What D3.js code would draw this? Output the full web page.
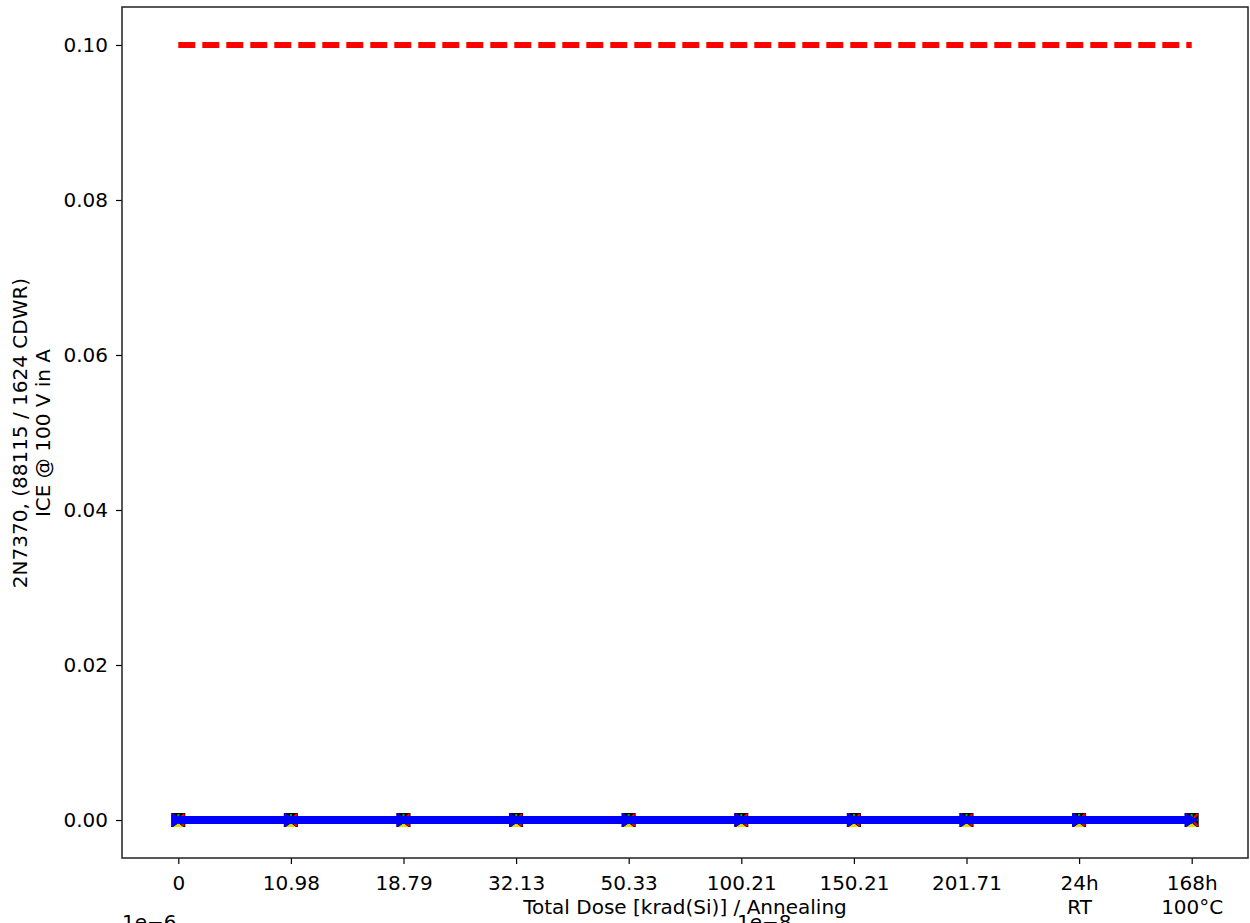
<!DOCTYPE html>
<html><head><meta charset="utf-8">
<script src="https://cdn.jsdelivr.net/npm/d3@7"></script>
<style>body{margin:0;background:#fff}svg{display:block;font-family:"DejaVu Sans",sans-serif}</style>
</head><body><svg id="c" width="1250" height="923"></svg>
<script>
const categories = ["0","10.98","18.79","32.13","50.33","100.21","150.21","201.71","24h\nRT","168h\n100°C"];
const limitValues = [0.1,0.1,0.1,0.1,0.1,0.1,0.1,0.1,0.1,0.1];
const seriesBlack = [2e-8,2e-8,2e-8,2e-8,2e-8,2e-8,2e-8,2e-8,2e-8,2e-8];
const seriesRed = [1e-8,1e-8,1e-8,1e-8,1e-8,1e-8,1e-8,1e-8,1e-8,1e-8];
const seriesGreen = [1.5e-8,1.5e-8,1.5e-8,1.5e-8,1.5e-8,1.5e-8,1.5e-8,1.5e-8,1.5e-8,1.5e-8];
const seriesYellow = [1e-8,1e-8,1e-8,1e-8,1e-8,1e-8,1e-8,1e-8,1e-8,1e-8];
const seriesBlue = [1e-6,1e-6,1e-6,1e-6,1e-6,1e-6,1e-6,1e-6,1e-6,1e-6];
const yTicks = [0.00,0.02,0.04,0.06,0.08,0.10];

const svg = d3.select("#c");
const L=122,R=1248,T=7,B=858;
const x = d3.scaleLinear().domain([-0.5,9.5]).range([L,R]);
const y = d3.scaleLinear().domain([-0.0049,0.1049]).range([B,T]);
const FS = 20;

// y axis
const ya = svg.append("g").attr("transform",`translate(${L},0)`)
  .call(d3.axisLeft(y).tickValues(yTicks).tickFormat(d3.format(".2f")).tickSizeOuter(0).tickSize(6).tickPadding(8));
ya.select(".domain").remove();
ya.selectAll("text").attr("font-size",FS).attr("font-family","DejaVu Sans").attr("fill","#000");
ya.selectAll("line").attr("stroke","#000").attr("stroke-width",1.2);

// x axis
const xa = svg.append("g").attr("transform",`translate(0,${B})`)
  .call(d3.axisBottom(x).tickValues(d3.range(categories.length)).tickFormat("").tickSizeOuter(0).tickSize(6));
xa.select(".domain").remove();
xa.selectAll("line").attr("stroke","#000").attr("stroke-width",1.2);
xa.selectAll(".tick").each(function(d){
  const lines = categories[d].split("\n");
  const t = d3.select(this).append("text").attr("fill","#000").attr("font-size",FS).attr("font-family","DejaVu Sans").attr("text-anchor","middle");
  lines.forEach((s,i)=>t.append("tspan").attr("x",0).attr("y",32+i*24).text(s));
});

// frame
svg.append("rect").attr("x",L).attr("y",T).attr("width",R-L).attr("height",B-T)
  .attr("fill","none").attr("stroke","#222").attr("stroke-width",1.5);

const line = arr => d3.line().x((d,i)=>x(i)).y(d=>y(d))(arr);

// limit line
svg.append("path").attr("d",line(limitValues)).attr("fill","none").attr("stroke","#ff0000")
  .attr("stroke-width",6).attr("stroke-dasharray","17,7");

// black squares
svg.append("g").selectAll("rect").data(seriesBlack).join("rect")
  .attr("x",(d,i)=>x(i)-7).attr("y",d=>y(d)-7).attr("width",14).attr("height",14).attr("fill","#000");
// red x
svg.append("g").selectAll("path").data(seriesRed).join("path")
  .attr("d",(d,i)=>{const cx=x(i),cy=y(d);return `M${cx-6},${cy-6}L${cx+6},${cy+6}M${cx-6},${cy+6}L${cx+6},${cy-6}`;})
  .attr("stroke","#ff0000").attr("stroke-width",2);
// green +
svg.append("g").selectAll("path").data(seriesGreen).join("path")
  .attr("d",(d,i)=>{const cx=x(i),cy=y(d);return `M${cx-6},${cy}L${cx+6},${cy}M${cx},${cy-6}L${cx},${cy+6}`;})
  .attr("stroke","#00b000").attr("stroke-width",2);
// yellow triangles
svg.append("g").selectAll("path").data(seriesYellow).join("path")
  .attr("d",(d,i)=>{const cx=x(i),cy=y(d);return `M${cx},${cy+3}L${cx-5},${cy+7}L${cx+5},${cy+7}Z`;})
  .attr("fill","#e0e000");
// blue line
svg.append("path").attr("d",line(seriesBlue)).attr("fill","none").attr("stroke","#0000ff").attr("stroke-width",8);
svg.append("g").selectAll("path").data(seriesBlue).join("path")
  .attr("d",(d,i)=>{const cx=x(i),cy=y(d);return `M${cx-7},${cy-7}L${cx+7},${cy}L${cx-7},${cy+7}Z`;})
  .attr("fill","#0000ff");

// labels
svg.append("text").attr("x",685).attr("y",914).attr("text-anchor","middle").attr("font-size",FS).attr("fill","#000")
  .text("Total Dose [krad(Si)] / Annealing");
svg.append("text").attr("x",122).attr("y",929).attr("font-size",FS).attr("fill","#000").text("1e−6");
svg.append("text").attr("x",737).attr("y",929).attr("font-size",FS).attr("fill","#000").text("1e−8");
const yl = svg.append("text").attr("transform",`translate(0,433) rotate(-90)`).attr("text-anchor","middle").attr("font-size",FS).attr("fill","#000");
yl.append("tspan").attr("x",0).attr("y",27).text("2N7370, (88115 / 1624 CDWR)");
yl.append("tspan").attr("x",0).attr("y",50).text("ICE @ 100 V in A");
</script></body></html>
